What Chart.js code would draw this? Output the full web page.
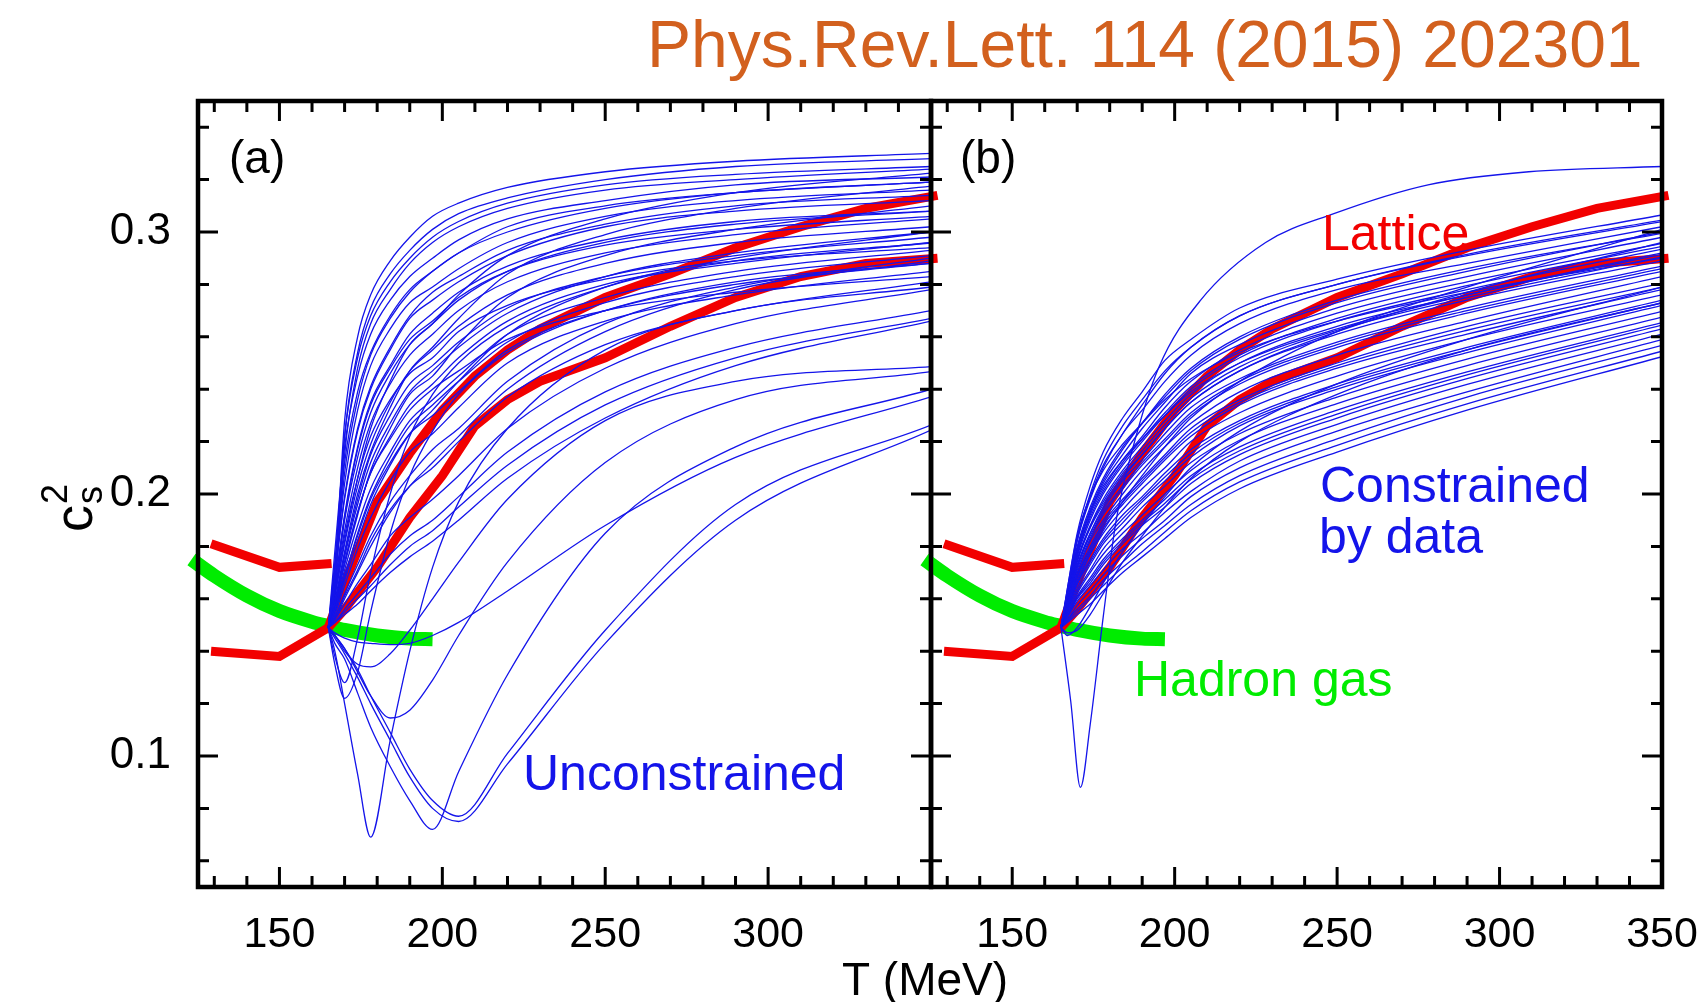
<!DOCTYPE html>
<html>
<head>
<meta charset="utf-8">
<script src="https://cdn.jsdelivr.net/npm/chart.js@4.4.1/dist/chart.umd.min.js"></script>
<style>
  html, body { margin: 0; padding: 0; background: #fff; }
  #wrap { position: relative; width: 1707px; height: 1002px; overflow: hidden; background: #fff; }
  #wrap canvas { position: absolute; left: 0; top: 0; }
</style>
</head>
<body>
<div id="wrap">
  <canvas id="chartA" width="1707" height="1002"></canvas>
  <canvas id="chartB" width="1707" height="1002"></canvas>
</div>
<script>
// ---- texts and ticks ----
const titleText = 'Phys.Rev.Lett. 114 (2015) 202301';
const xTitle = 'T (MeV)';
const xLabelsA = [150, 200, 250, 300];
const xLabelsB = [150, 200, 250, 300, 350];
const yLabels = [0.1, 0.2, 0.3];
const xMinorMarks = [130, 140, 160, 170, 180, 190, 210, 220, 230, 240, 260, 270, 280, 290, 310, 320, 330, 340];
const xMajorMarks = [150, 200, 250, 300, 350];
const yMinorMarks = [0.06, 0.08, 0.12, 0.14, 0.16, 0.18, 0.22, 0.24, 0.26, 0.28, 0.32, 0.34];
const yMajorMarks = [0.1, 0.2, 0.3];

// ---- lattice and hadron gas (both panels) ----
const latticeLowT = [129, 150, 166];
const latticeLowV = [0.181, 0.172, 0.1735];
const latticeT = [129, 150, 165, 170, 180, 190, 200, 210, 220, 230, 250, 270, 290, 310, 330, 352];
const latticeLowerV = [0.140, 0.138, 0.149, 0.156, 0.172, 0.191, 0.207, 0.226, 0.236, 0.243, 0.252, 0.264, 0.275, 0.283, 0.288, 0.290];
const latticeUpperT = [165, 170, 180, 190, 200, 210, 220, 230, 250, 270, 290, 310, 330, 352];
const latticeUpperV = [0.149, 0.166, 0.197, 0.2155, 0.232, 0.245, 0.255, 0.263, 0.275, 0.284, 0.294, 0.302, 0.309, 0.314];
const hadronT = [123, 130, 140, 150, 160, 165, 170, 180, 190, 197];
const hadronV = [0.1750, 0.1688, 0.1612, 0.1553, 0.1512, 0.1496, 0.1481, 0.1460, 0.1448, 0.1446];

// ---- model curves, all sampled on one T grid (MeV) ----
const tGrid = [165, 167, 170, 174, 178, 184, 190, 197, 205, 220, 250, 290, 350];

// (a) unconstrained: the fast risers at the top
const fastCurves = [
  [0.149, 0.168, 0.228, 0.260, 0.276, 0.289, 0.298, 0.306, 0.311, 0.317, 0.323, 0.327, 0.330],
  [0.149, 0.165, 0.222, 0.254, 0.271, 0.284, 0.293, 0.301, 0.307, 0.313, 0.320, 0.325, 0.328],
  [0.149, 0.163, 0.215, 0.248, 0.265, 0.278, 0.288, 0.296, 0.302, 0.309, 0.316, 0.320, 0.324]
];
// (a) unconstrained: main fan
const fanCurves = [
  [0.149, 0.178, 0.218, 0.245, 0.261, 0.274, 0.283, 0.290, 0.297, 0.305, 0.312, 0.318, 0.321],
  [0.149, 0.174, 0.212, 0.239, 0.254, 0.268, 0.278, 0.285, 0.292, 0.302, 0.310, 0.315, 0.319],
  [0.149, 0.171, 0.204, 0.232, 0.249, 0.263, 0.273, 0.279, 0.286, 0.296, 0.306, 0.312, 0.316],
  [0.149, 0.169, 0.198, 0.224, 0.240, 0.255, 0.267, 0.274, 0.281, 0.291, 0.302, 0.308, 0.312],
  [0.149, 0.165, 0.192, 0.218, 0.235, 0.249, 0.261, 0.269, 0.277, 0.287, 0.297, 0.304, 0.308],
  [0.149, 0.163, 0.186, 0.210, 0.227, 0.242, 0.253, 0.261, 0.270, 0.281, 0.292, 0.299, 0.305],
  [0.149, 0.161, 0.181, 0.203, 0.219, 0.235, 0.247, 0.255, 0.264, 0.276, 0.288, 0.296, 0.302],
  [0.149, 0.159, 0.177, 0.198, 0.215, 0.230, 0.242, 0.249, 0.258, 0.271, 0.283, 0.291, 0.298],
  [0.149, 0.158, 0.174, 0.193, 0.208, 0.222, 0.234, 0.242, 0.252, 0.266, 0.280, 0.288, 0.296],
  [0.149, 0.156, 0.171, 0.188, 0.202, 0.216, 0.228, 0.236, 0.245, 0.261, 0.275, 0.285, 0.293],
  [0.149, 0.156, 0.169, 0.184, 0.198, 0.212, 0.223, 0.230, 0.239, 0.255, 0.270, 0.280, 0.288],
  [0.149, 0.154, 0.165, 0.179, 0.191, 0.205, 0.216, 0.223, 0.233, 0.250, 0.266, 0.276, 0.285],
  [0.149, 0.153, 0.161, 0.171, 0.182, 0.194, 0.203, 0.210, 0.220, 0.237, 0.257, 0.270, 0.281],
  [0.149, 0.152, 0.158, 0.166, 0.173, 0.184, 0.191, 0.198, 0.207, 0.225, 0.248, 0.265, 0.278],
  [0.149, 0.151, 0.156, 0.162, 0.168, 0.177, 0.184, 0.190, 0.199, 0.216, 0.239, 0.256, 0.270],
  [0.149, 0.151, 0.155, 0.160, 0.165, 0.173, 0.180, 0.186, 0.195, 0.211, 0.234, 0.252, 0.267],
  [0.149, 0.151, 0.154, 0.158, 0.163, 0.170, 0.176, 0.182, 0.190, 0.206, 0.229, 0.249, 0.266],
  [0.149, 0.161, 0.182, 0.206, 0.225, 0.243, 0.257, 0.265, 0.276, 0.291, 0.305, 0.315, 0.3225],
  [0.149, 0.159, 0.178, 0.200, 0.216, 0.233, 0.247, 0.256, 0.267, 0.284, 0.299, 0.309, 0.3175],
  [0.149, 0.169, 0.199, 0.225, 0.241, 0.256, 0.268, 0.277, 0.283, 0.293, 0.303, 0.310, 0.314],
  [0.149, 0.157, 0.173, 0.192, 0.209, 0.225, 0.238, 0.245, 0.257, 0.275, 0.291, 0.301, 0.310],
  [0.149, 0.165, 0.191, 0.217, 0.234, 0.248, 0.259, 0.266, 0.275, 0.285, 0.295, 0.301, 0.306],
  [0.149, 0.155, 0.167, 0.182, 0.196, 0.211, 0.223, 0.232, 0.243, 0.261, 0.279, 0.290, 0.300],
  [0.149, 0.162, 0.184, 0.206, 0.222, 0.236, 0.246, 0.252, 0.262, 0.272, 0.282, 0.289, 0.294],
  [0.149, 0.153, 0.162, 0.173, 0.184, 0.197, 0.207, 0.217, 0.225, 0.243, 0.265, 0.279, 0.290],
  [0.149, 0.158, 0.174, 0.193, 0.208, 0.221, 0.232, 0.240, 0.247, 0.259, 0.270, 0.277, 0.283],
  [0.149, 0.172, 0.222, 0.252, 0.268, 0.281, 0.290, 0.298, 0.304, 0.311, 0.318, 0.322, 0.325],
  [0.149, 0.167, 0.208, 0.236, 0.253, 0.267, 0.277, 0.285, 0.292, 0.300, 0.309, 0.315, 0.319],
  [0.149, 0.162, 0.190, 0.214, 0.231, 0.246, 0.257, 0.265, 0.274, 0.285, 0.296, 0.303, 0.308],
  [0.149, 0.158, 0.176, 0.196, 0.212, 0.227, 0.239, 0.247, 0.256, 0.269, 0.283, 0.292, 0.300],
  [0.149, 0.155, 0.168, 0.185, 0.199, 0.214, 0.226, 0.234, 0.243, 0.258, 0.273, 0.283, 0.291],
  [0.149, 0.152, 0.160, 0.170, 0.180, 0.193, 0.203, 0.212, 0.222, 0.240, 0.262, 0.278, 0.289]
];
// (a) unconstrained: curves that dip below the crossing point
const dipCurves = [
  [0.149, 0.140, 0.120, 0.093, 0.069, 0.106, 0.140, 0.172, 0.197, 0.225, 0.255, 0.270, 0.279],
  [0.149, 0.143, 0.137, 0.124, 0.111, 0.096, 0.083, 0.072, 0.094, 0.131, 0.185, 0.218, 0.240],
  [0.149, 0.145, 0.139, 0.130, 0.120, 0.106, 0.092, 0.080, 0.075, 0.097, 0.143, 0.190, 0.2244],
  [0.149, 0.146, 0.141, 0.133, 0.123, 0.109, 0.095, 0.083, 0.077, 0.101, 0.148, 0.196, 0.2263],
  [0.149, 0.146, 0.141, 0.132, 0.123, 0.1145, 0.1175, 0.129, 0.146, 0.174, 0.212, 0.236, 0.2467],
  [0.149, 0.146, 0.140, 0.135, 0.134, 0.139, 0.148, 0.160, 0.174, 0.198, 0.228, 0.243, 0.2486],
  [0.149, 0.138, 0.128, 0.145, 0.170, 0.200, 0.222, 0.238, 0.250, 0.264, 0.279, 0.289, 0.2958],
  [0.149, 0.135, 0.122, 0.132, 0.155, 0.185, 0.207, 0.224, 0.238, 0.254, 0.270, 0.281, 0.288],
  [0.149, 0.147, 0.145, 0.1435, 0.143, 0.1425, 0.143, 0.146, 0.151, 0.163, 0.188, 0.214, 0.2371]
];
// (b) constrained by data
const constrainedCurves = [
  [0.149, 0.164, 0.185, 0.203, 0.216, 0.229, 0.239, 0.251, 0.259, 0.271, 0.282, 0.293, 0.3065],
  [0.149, 0.163, 0.183, 0.200, 0.213, 0.226, 0.236, 0.247, 0.256, 0.268, 0.280, 0.291, 0.304],
  [0.149, 0.162, 0.182, 0.198, 0.210, 0.223, 0.232, 0.243, 0.253, 0.265, 0.278, 0.288, 0.302],
  [0.149, 0.162, 0.180, 0.195, 0.206, 0.218, 0.227, 0.238, 0.248, 0.260, 0.274, 0.286, 0.2995],
  [0.149, 0.161, 0.178, 0.193, 0.204, 0.215, 0.225, 0.235, 0.246, 0.257, 0.271, 0.283, 0.298],
  [0.149, 0.161, 0.177, 0.192, 0.202, 0.213, 0.222, 0.233, 0.243, 0.255, 0.269, 0.281, 0.2957],
  [0.149, 0.160, 0.176, 0.190, 0.200, 0.211, 0.220, 0.230, 0.240, 0.252, 0.266, 0.278, 0.2935],
  [0.149, 0.160, 0.175, 0.188, 0.198, 0.209, 0.218, 0.228, 0.238, 0.250, 0.264, 0.276, 0.2915],
  [0.149, 0.159, 0.174, 0.187, 0.196, 0.207, 0.215, 0.225, 0.235, 0.247, 0.261, 0.274, 0.289],
  [0.149, 0.159, 0.173, 0.185, 0.194, 0.205, 0.213, 0.223, 0.233, 0.244, 0.258, 0.271, 0.287],
  [0.149, 0.158, 0.171, 0.183, 0.192, 0.202, 0.211, 0.220, 0.230, 0.242, 0.256, 0.269, 0.285],
  [0.149, 0.158, 0.170, 0.182, 0.190, 0.200, 0.209, 0.218, 0.227, 0.239, 0.253, 0.266, 0.283],
  [0.149, 0.157, 0.169, 0.180, 0.189, 0.198, 0.206, 0.215, 0.225, 0.236, 0.250, 0.264, 0.2805],
  [0.149, 0.157, 0.168, 0.178, 0.187, 0.196, 0.204, 0.213, 0.222, 0.234, 0.248, 0.261, 0.278],
  [0.149, 0.156, 0.167, 0.177, 0.185, 0.194, 0.202, 0.210, 0.220, 0.231, 0.245, 0.259, 0.276],
  [0.149, 0.156, 0.166, 0.175, 0.183, 0.192, 0.199, 0.208, 0.217, 0.228, 0.242, 0.256, 0.274],
  [0.149, 0.155, 0.164, 0.173, 0.181, 0.189, 0.197, 0.205, 0.214, 0.226, 0.240, 0.254, 0.272],
  [0.149, 0.155, 0.163, 0.171, 0.179, 0.187, 0.195, 0.203, 0.212, 0.223, 0.237, 0.2515, 0.2697],
  [0.149, 0.154, 0.162, 0.170, 0.177, 0.185, 0.192, 0.200, 0.209, 0.2205, 0.2345, 0.249, 0.2675],
  [0.149, 0.154, 0.161, 0.168, 0.175, 0.183, 0.190, 0.198, 0.207, 0.218, 0.232, 0.2466, 0.2654],
  [0.149, 0.153, 0.160, 0.166, 0.173, 0.181, 0.188, 0.195, 0.204, 0.215, 0.229, 0.244, 0.263],
  [0.149, 0.153, 0.159, 0.165, 0.171, 0.179, 0.185, 0.193, 0.201, 0.2126, 0.2266, 0.2418, 0.261],
  [0.149, 0.152, 0.1575, 0.163, 0.169, 0.1765, 0.183, 0.190, 0.199, 0.210, 0.224, 0.239, 0.2589],
  [0.149, 0.152, 0.156, 0.161, 0.167, 0.174, 0.181, 0.188, 0.196, 0.207, 0.221, 0.237, 0.2567],
  [0.149, 0.1515, 0.155, 0.160, 0.165, 0.172, 0.178, 0.1855, 0.1936, 0.2046, 0.2186, 0.2344, 0.2545],
  [0.149, 0.151, 0.154, 0.158, 0.163, 0.170, 0.176, 0.183, 0.191, 0.202, 0.216, 0.232, 0.2524],
  [0.149, 0.164, 0.184, 0.199, 0.209, 0.219, 0.227, 0.236, 0.244, 0.254, 0.266, 0.277, 0.290],
  [0.149, 0.156, 0.166, 0.177, 0.186, 0.197, 0.207, 0.218, 0.229, 0.243, 0.262, 0.279, 0.301],
  [0.149, 0.147, 0.148, 0.154, 0.162, 0.174, 0.184, 0.195, 0.206, 0.220, 0.238, 0.255, 0.273],
  [0.149, 0.146, 0.149, 0.157, 0.166, 0.178, 0.188, 0.199, 0.210, 0.224, 0.242, 0.259, 0.279],
  [0.149, 0.161, 0.179, 0.193, 0.203, 0.213, 0.221, 0.230, 0.239, 0.250, 0.263, 0.276, 0.292],
  [0.149, 0.158, 0.172, 0.185, 0.195, 0.206, 0.215, 0.225, 0.235, 0.247, 0.262, 0.277, 0.296],
  [0.149, 0.1625, 0.1825, 0.199, 0.211, 0.223, 0.234, 0.246, 0.256, 0.268, 0.280, 0.2915, 0.3045],
  [0.149, 0.161, 0.179, 0.194, 0.205, 0.217, 0.227, 0.237, 0.247, 0.259, 0.273, 0.285, 0.300],
  [0.149, 0.160, 0.177, 0.191, 0.201, 0.212, 0.221, 0.231, 0.241, 0.253, 0.267, 0.2795, 0.2945],
  [0.149, 0.159, 0.1745, 0.1875, 0.197, 0.208, 0.2165, 0.2265, 0.2365, 0.2485, 0.2625, 0.275, 0.2905],
  [0.149, 0.158, 0.172, 0.184, 0.193, 0.203, 0.212, 0.221, 0.231, 0.243, 0.257, 0.270, 0.286],
  [0.149, 0.157, 0.1685, 0.179, 0.188, 0.197, 0.205, 0.214, 0.2235, 0.235, 0.249, 0.2625, 0.279],
  [0.149, 0.1555, 0.1655, 0.174, 0.182, 0.1905, 0.198, 0.2065, 0.2155, 0.227, 0.241, 0.255, 0.273],
  [0.149, 0.1535, 0.1605, 0.167, 0.174, 0.182, 0.189, 0.1965, 0.2055, 0.2165, 0.2305, 0.2455, 0.2645]
];
// (b) the one constrained curve with a deep dip, ending on top
const outlierT = [165, 168, 171, 174, 178, 182, 187, 195, 208, 228, 249, 278, 309, 350];
const outlierV = [0.149, 0.121, 0.088, 0.112, 0.153, 0.190, 0.217, 0.248, 0.274, 0.296, 0.307, 0.318, 0.323, 0.325];

// ---- styling ----
const FONT = '"Liberation Sans", Arial, Helvetica, sans-serif';
const BLUE = '#1414ea';
const RED = '#f20000';
const GREEN = '#00ec00';
const TITLE_COLOR = '#d2601e';

function pts(ts, vs) {
  return ts.map((t, i) => ({ x: t, y: vs[i] }));
}
function blueSet(vs, ts) {
  return {
    data: pts(ts || tGrid, vs),
    borderColor: BLUE, borderWidth: 1.3, pointRadius: 0,
    cubicInterpolationMode: 'monotone', fill: false, order: 0
  };
}
function referenceSets() {
  return [
    { data: pts(hadronT, hadronV), borderColor: GREEN, borderWidth: 14, pointRadius: 0,
      cubicInterpolationMode: 'monotone', clip: false, order: 2 },
    { data: pts(latticeLowT, latticeLowV), borderColor: RED, borderWidth: 9, pointRadius: 0,
      tension: 0, clip: false, order: 1 },
    { data: pts(latticeT, latticeLowerV), borderColor: RED, borderWidth: 9, pointRadius: 0,
      tension: 0, clip: false, order: 1 },
    { data: pts(latticeUpperT, latticeUpperV), borderColor: RED, borderWidth: 9, pointRadius: 0,
      tension: 0, clip: false, order: 1 }
  ];
}

// frame with inward tick marks on all four sides
const frameTicks = {
  id: 'frameTicks',
  afterDraw(chart) {
    const { ctx, chartArea: a, scales: { x, y } } = chart;
    ctx.save();
    ctx.strokeStyle = '#000';
    ctx.lineWidth = 3;
    ctx.beginPath();
    const xMark = (t, len) => {
      const px = x.getPixelForValue(t);
      ctx.moveTo(px, a.bottom); ctx.lineTo(px, a.bottom - len);
      ctx.moveTo(px, a.top); ctx.lineTo(px, a.top + len);
    };
    const yMark = (v, len) => {
      const py = y.getPixelForValue(v);
      ctx.moveTo(a.left, py); ctx.lineTo(a.left + len, py);
      ctx.moveTo(a.right, py); ctx.lineTo(a.right - len, py);
    };
    xMinorMarks.forEach(t => xMark(t, 11));
    xMajorMarks.forEach(t => xMark(t, 20));
    yMinorMarks.forEach(v => yMark(v, 11));
    yMajorMarks.forEach(v => yMark(v, 20));
    ctx.stroke();
    ctx.lineWidth = 4.5;
    ctx.strokeRect(a.left, a.top, a.right - a.left, a.bottom - a.top);
    ctx.restore();
  }
};

const textA = {
  id: 'textA',
  afterDraw(chart) {
    const c = chart.ctx;
    c.save();
    c.textAlign = 'left';
    c.textBaseline = 'alphabetic';
    c.fillStyle = TITLE_COLOR;
    c.font = '66px ' + FONT;
    c.fillText(titleText, 647, 67);

    c.fillStyle = '#000';
    c.font = '46px ' + FONT;
    c.textAlign = 'center';
    c.fillText(xTitle, 925, 995);

    c.textAlign = 'left';
    c.font = '46px ' + FONT;
    c.fillText('(a)', 229, 173);

    c.fillStyle = BLUE;
    c.font = '50px ' + FONT;
    c.fillText('Unconstrained', 523, 790);

    // y title: c_s^2, rotated
    c.fillStyle = '#000';
    c.translate(92, 532);
    c.rotate(-Math.PI / 2);
    c.font = '54px ' + FONT;
    c.fillText('c', 0, 0);
    c.font = '36px ' + FONT;
    c.fillText('s', 28, 10);
    c.fillText('2', 28, -25);
    c.restore();
  }
};

const textB = {
  id: 'textB',
  afterDraw(chart) {
    const c = chart.ctx;
    c.save();
    c.textAlign = 'left';
    c.textBaseline = 'alphabetic';
    c.fillStyle = '#000';
    c.font = '46px ' + FONT;
    c.fillText('(b)', 960, 173);
    c.font = '50px ' + FONT;
    c.fillStyle = RED;
    c.fillText('Lattice', 1322, 250);
    c.fillStyle = BLUE;
    c.fillText('Constrained', 1320, 502);
    c.fillText('by data', 1319, 553);
    c.fillStyle = GREEN;
    c.fillText('Hadron gas', 1134, 696);
    c.restore();
  }
};

function panelOptions(xLabels, padding, showY) {
  return {
    responsive: false,
    animation: false,
    events: [],
    layout: { padding, autoPadding: false },
    plugins: { legend: { display: false }, tooltip: { enabled: false } },
    scales: {
      x: {
        type: 'linear', min: 125, max: 350,
        grid: { display: false, drawTicks: false },
        border: { display: false },
        afterBuildTicks: s => { s.ticks = xLabels.map(v => ({ value: v })); },
        afterFit: s => { s.height = 115; s.paddingLeft = 0; s.paddingRight = 0; },
        ticks: { color: '#000', font: { family: FONT, size: 43 }, padding: 22,
                 maxRotation: 0, autoSkip: false }
      },
      y: {
        type: 'linear', min: 0.05, max: 0.35,
        display: showY,
        grid: { display: false, drawTicks: false },
        border: { display: false },
        afterBuildTicks: s => { s.ticks = yLabels.map(v => ({ value: v })); },
        afterFit: s => { s.width = showY ? 198 : 0; s.paddingTop = 0; s.paddingBottom = 0; },
        ticks: { color: '#000', font: { family: FONT, size: 44 }, padding: 27,
                 callback: v => v.toFixed(1) }
      }
    }
  };
}

const setsA = referenceSets()
  .concat(fastCurves.map(v => blueSet(v)))
  .concat(fanCurves.map(v => blueSet(v)))
  .concat(dipCurves.map(v => blueSet(v)));

const setsB = referenceSets()
  .concat(constrainedCurves.map(v => blueSet(v)))
  .concat([blueSet(outlierV, outlierT)]);

new Chart(document.getElementById('chartA'), {
  type: 'line',
  data: { datasets: setsA },
  options: panelOptions(xLabelsA, { top: 101, right: 776, bottom: 0, left: 0 }, true),
  plugins: [frameTicks, textA]
});

new Chart(document.getElementById('chartB'), {
  type: 'line',
  data: { datasets: setsB },
  options: panelOptions(xLabelsB, { top: 101, right: 45, bottom: 0, left: 931 }, false),
  plugins: [frameTicks, textB]
});
</script>
</body>
</html>
